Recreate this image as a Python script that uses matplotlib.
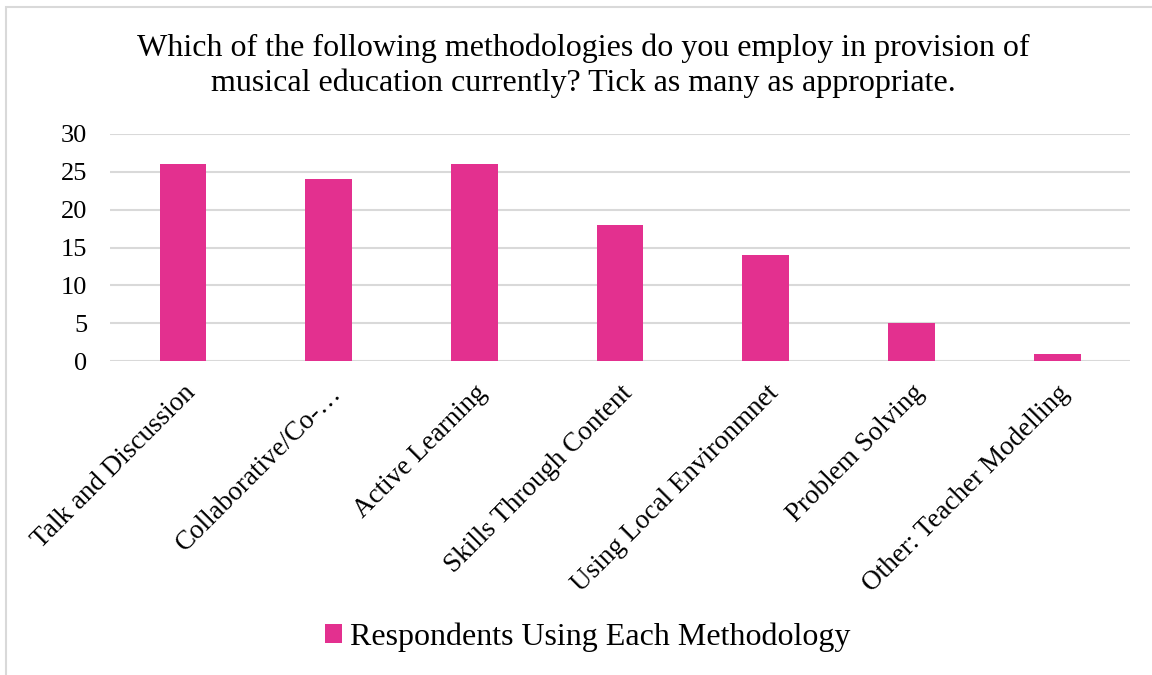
import matplotlib.pyplot as plt
from matplotlib.patches import Rectangle

categories = [
    'Talk and Discussion',
    'Collaborative/Co-\u2026',
    'Active Learning',
    'Skills Through Content',
    'Using Local Environmnet',
    'Problem Solving',
    'Other: Teacher Modelling',
]
respondents = [26, 24, 26, 18, 14, 5, 1]
yticks = [0, 5, 10, 15, 20, 25, 30]

plt.rcParams['font.family'] = ['Liberation Serif', 'DejaVu Serif']

fig = plt.figure(figsize=(11.52, 6.75), dpi=100)
ax = fig.add_axes([0.0955, 0.465, 0.8855, 0.3365])

x = range(len(categories))
ax.bar(x, respondents, width=0.32, color='#E3308F',
       label='Respondents Using Each Methodology', zorder=3)

ax.set_xlim(-0.5, len(categories) - 0.5)
ax.set_ylim(0, 30)
ax.set_yticks(yticks)
ax.set_yticklabels([str(t) for t in yticks], fontsize=19)
ax.set_xticks(list(x))
ax.set_xticklabels(categories, fontsize=19.5, rotation=45,
                   ha='right', va='top', rotation_mode='anchor')
ax.tick_params(axis='both', length=0)
ax.tick_params(axis='y', pad=16.5)
ax.tick_params(axis='x', pad=14)
ax.grid(axis='y', color='#D9D9D9', linewidth=1.5, zorder=0)
for s in ax.spines.values():
    s.set_visible(False)

fig.text(0.506, 0.903,
         'Which of the following methodologies do you employ in provision of\n'
         'musical education currently? Tick as many as appropriate.',
         ha='center', va='center', fontsize=23, linespacing=1.26)

fig.legend(loc='center', bbox_to_anchor=(0.51, 0.056), frameon=False,
           fontsize=23, handlelength=0.55, handleheight=0.55, handletextpad=0.25)

# light frame around the chart area
fig.patches.append(Rectangle((6 / 1152, -0.1), 1.2, 1 - 7 / 675 + 0.1,
                             transform=fig.transFigure, fill=False,
                             edgecolor='#D9D9D9', linewidth=1.5))

fig.savefig('out.png', dpi=100)
